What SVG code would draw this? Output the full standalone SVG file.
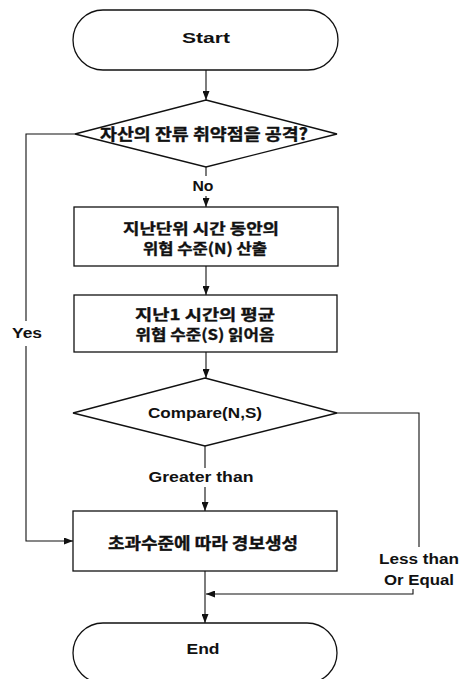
<svg xmlns="http://www.w3.org/2000/svg" width="466" height="679" viewBox="0 0 466 679">
<style>
.shape{fill:#fff;stroke:#111;stroke-width:1.3}
.conn{fill:none;stroke:#111;stroke-width:1.1}
text{font-family:"Liberation Sans","Noto Sans CJK KR",sans-serif;font-weight:bold;fill:#111;text-anchor:middle;dominant-baseline:central}
.lat{font-size:14px}
.kr{font-size:15px;font-family:"Noto Sans CJK KR","Liberation Sans",sans-serif;stroke:#111;stroke-width:0.35}
.kr1{font-size:16px}
</style>
<defs>
<marker id="arr" markerUnits="userSpaceOnUse" markerWidth="9" markerHeight="7" refX="9" refY="3.5" orient="auto">
<path d="M0,0 L9,3.5 L0,7 z" fill="#111"/>
</marker>
</defs>
<rect width="466" height="679" fill="#fff"/>
<g id="connectors">
<path class="conn" d="M206,70 V100" marker-end="url(#arr)"/>
<path class="conn" d="M206,167 V176 M206,196 V207" marker-end="url(#arr)"/>
<path class="conn" d="M206,266 V295" marker-end="url(#arr)"/>
<path class="conn" d="M206,352 V378" marker-end="url(#arr)"/>
<path class="conn" d="M205,446 V468 M205,487 V511" marker-end="url(#arr)"/>
<path class="conn" d="M205,571 V623" marker-end="url(#arr)"/>
<path class="conn" d="M75,134 H26 V321 M26,346 V541 H73" marker-end="url(#arr)"/>
<path class="conn" d="M337,413 H419 V547 M413,589 V594 H206" marker-end="url(#arr)"/>
<text class="lat" x="203" y="186" textLength="21" lengthAdjust="spacingAndGlyphs">No</text>
<text class="lat" x="27" y="333" textLength="30" lengthAdjust="spacingAndGlyphs">Yes</text>
<text class="lat" x="201" y="477" textLength="105" lengthAdjust="spacingAndGlyphs">Greater than</text>
<text class="lat" x="419" y="559" font-size="15" textLength="80" lengthAdjust="spacingAndGlyphs">Less than</text>
<text class="lat" x="419" y="580" font-size="15" textLength="70" lengthAdjust="spacingAndGlyphs">Or Equal</text>
</g>
<g id="start">
<rect class="shape" x="73" y="10" width="265" height="60" rx="30" ry="30"/>
<text class="lat" x="206" y="38" textLength="48" lengthAdjust="spacingAndGlyphs">Start</text>
</g>
<g id="decision1">
<polygon class="shape" points="206,100 337,134 206,167 75,134"/>
<text class="kr kr1" x="204" y="133" textLength="208" lengthAdjust="spacingAndGlyphs">자산의 잔류 취약점을 공격?</text>
</g>
<g id="compute">
<rect class="shape" x="74" y="207" width="264" height="59"/>
<text class="kr" x="201" y="227" textLength="156" lengthAdjust="spacingAndGlyphs">지난단위 시간 동안의</text>
<text class="kr" x="205" y="247" textLength="124" lengthAdjust="spacingAndGlyphs">위협 수준(N) 산출</text>
</g>
<g id="read">
<rect class="shape" x="74" y="295" width="263" height="57"/>
<text class="kr" x="205" y="313" textLength="140" lengthAdjust="spacingAndGlyphs">지난1 시간의 평균</text>
<text class="kr" x="205" y="333" textLength="139" lengthAdjust="spacingAndGlyphs">위협 수준(S) 읽어옴</text>
</g>
<g id="decision2">
<polygon class="shape" points="205,378 337,413 205,446 73,413"/>
<text class="lat" x="205" y="413" textLength="114" lengthAdjust="spacingAndGlyphs">Compare(N,S)</text>
</g>
<g id="alarm">
<rect class="shape" x="73" y="511" width="264" height="60"/>
<text class="kr kr1" x="203" y="542" textLength="190" lengthAdjust="spacingAndGlyphs">초과수준에 따라 경보생성</text>
</g>
<g id="end">
<rect class="shape" x="73" y="623" width="264" height="60" rx="30" ry="30"/>
<text class="lat" x="203" y="649" textLength="33" lengthAdjust="spacingAndGlyphs">End</text>
</g>
</svg>
